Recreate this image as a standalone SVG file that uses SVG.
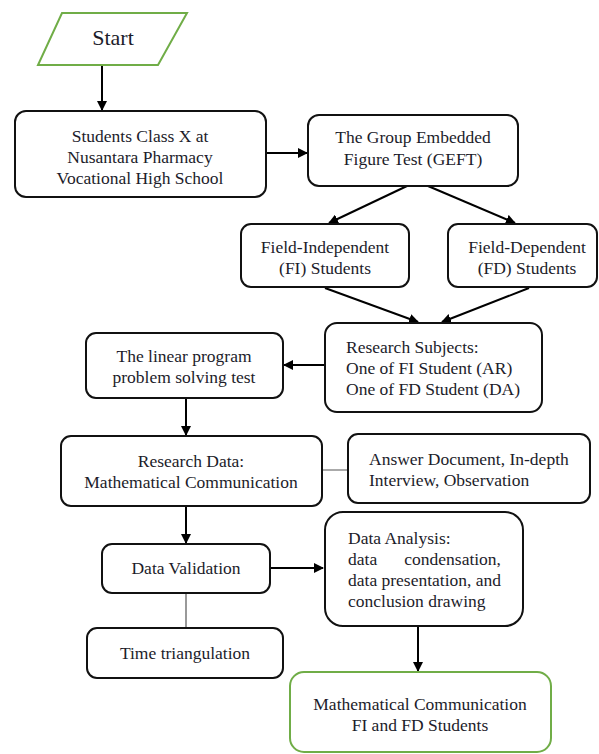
<svg xmlns="http://www.w3.org/2000/svg" width="599" height="754" viewBox="0 0 599 754">
<defs>
<marker id="ah" markerWidth="10" markerHeight="10" refX="9" refY="5" orient="auto" markerUnits="userSpaceOnUse">
<path d="M0,0 L10,5 L0,10 Z" fill="#000"/>
</marker>
<style>
.box{fill:#fff;stroke:#111;stroke-width:2}
.gbox{fill:#fff;stroke:#70ad47;stroke-width:2}
.t{font-family:"Liberation Serif","Times New Roman",serif;font-size:17.5px;fill:#1c1c2a}
.c{text-anchor:middle}
.con{stroke:#000;stroke-width:2;fill:none;marker-end:url(#ah)}
</style>
</defs>
<rect width="599" height="754" fill="#fff"/>
<g id="connectors">
<line class="con" x1="102" y1="66" x2="102" y2="110"/>
<line class="con" x1="266" y1="153" x2="307" y2="153"/>
<line class="con" x1="407" y1="186" x2="329" y2="223"/>
<line class="con" x1="428" y1="186" x2="515" y2="223"/>
<line class="con" x1="325" y1="288" x2="418" y2="322"/>
<line class="con" x1="529" y1="288" x2="442" y2="322"/>
<line class="con" x1="325" y1="365" x2="284" y2="365"/>
<line class="con" x1="186" y1="398" x2="186" y2="435"/>
<line x1="322" y1="470" x2="347" y2="470" stroke="#aaa" stroke-width="2"/>
<line class="con" x1="186" y1="506" x2="186" y2="543"/>
<line class="con" x1="270" y1="568" x2="323" y2="568"/>
<line x1="186" y1="593" x2="186" y2="628" stroke="#777" stroke-width="1.5"/>
<line class="con" x1="418" y1="626" x2="418" y2="671"/>
</g>
<g id="start">
<polygon class="gbox" points="62,13 187,13 158,65 38,65"/>
<text class="t c" x="113" y="45" style="font-size:22px">Start</text>
</g>
<g id="students">
<rect class="box" x="15" y="111" width="251" height="86" rx="11"/>
<text class="t c" x="140" y="142">Students Class X at</text>
<text class="t c" x="140" y="163">Nusantara Pharmacy</text>
<text class="t c" x="140" y="184">Vocational High School</text>
</g>
<g id="geft">
<rect class="box" x="308" y="115" width="210" height="71" rx="11"/>
<text class="t c" x="413" y="143">The Group Embedded</text>
<text class="t c" x="413" y="165">Figure Test (GEFT)</text>
</g>
<g id="fi">
<rect class="box" x="241" y="224" width="168" height="63" rx="10"/>
<text class="t c" x="325" y="253">Field-Independent</text>
<text class="t c" x="325" y="274">(FI) Students</text>
</g>
<g id="fd">
<rect class="box" x="448" y="224" width="149" height="63" rx="10"/>
<text class="t c" x="527" y="253">Field-Dependent</text>
<text class="t c" x="527" y="274">(FD) Students</text>
</g>
<g id="subjects">
<rect class="box" x="325" y="323" width="217" height="89" rx="12"/>
<text class="t" x="346" y="353">Research Subjects:</text>
<text class="t" x="346" y="374">One of FI Student (AR)</text>
<text class="t" x="346" y="395">One of FD Student (DA)</text>
</g>
<g id="linear">
<rect class="box" x="86" y="333" width="197" height="65" rx="10"/>
<text class="t c" x="184" y="362">The linear program</text>
<text class="t c" x="184" y="383">problem solving test</text>
</g>
<g id="researchdata">
<rect class="box" x="61" y="436" width="261" height="70" rx="10"/>
<text class="t c" x="191" y="467">Research Data:</text>
<text class="t c" x="191" y="488">Mathematical Communication</text>
</g>
<g id="answer">
<rect class="box" x="348" y="434" width="242" height="69" rx="10"/>
<text class="t" x="369" y="465">Answer Document, In-depth</text>
<text class="t" x="369" y="486">Interview, Observation</text>
</g>
<g id="validation">
<rect class="box" x="102" y="544" width="168" height="49" rx="10"/>
<text class="t c" x="186" y="574">Data Validation</text>
</g>
<g id="analysis">
<rect class="box" x="325" y="512" width="198" height="114" rx="18"/>
<text class="t" x="348" y="544">Data Analysis:</text>
<text class="t" x="348" y="565">data</text>
<text class="t" x="501" y="565" text-anchor="end">condensation,</text>
<text class="t" x="348" y="586">data presentation, and</text>
<text class="t" x="348" y="607">conclusion drawing</text>
</g>
<g id="triangulation">
<rect class="box" x="87" y="628" width="196" height="50" rx="10"/>
<text class="t c" x="185" y="659">Time triangulation</text>
</g>
<g id="final">
<rect class="gbox" x="290" y="672" width="261" height="80" rx="14"/>
<text class="t c" x="420" y="710">Mathematical Communication</text>
<text class="t c" x="420" y="731">FI and FD Students</text>
</g>
</svg>
